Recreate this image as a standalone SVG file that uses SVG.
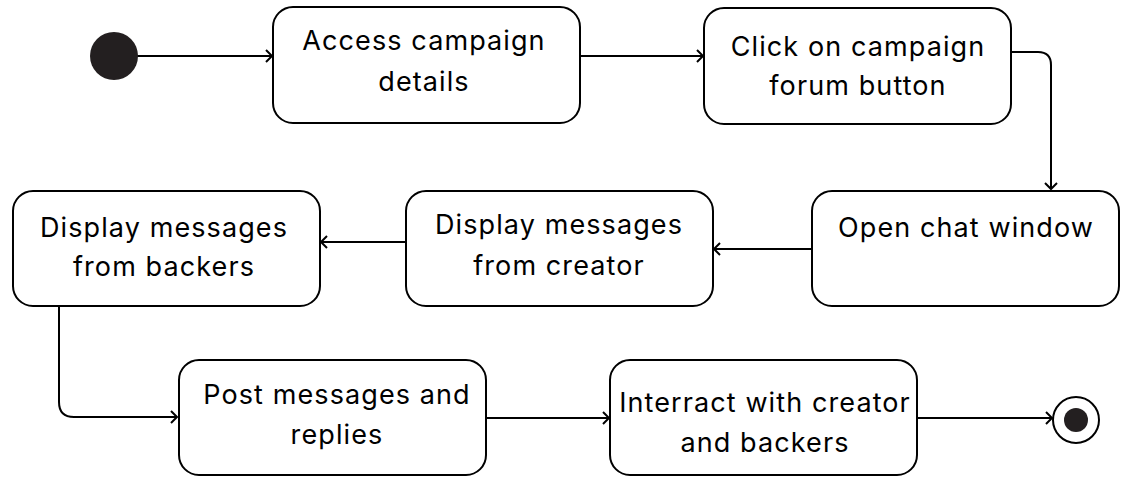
<svg xmlns="http://www.w3.org/2000/svg" width="1130" height="497" viewBox="0 0 1130 497">
<style>
.box{fill:#fff;stroke:#000;stroke-width:2}
.t{font-family:Inter,"Open Sans","Liberation Sans",sans-serif;font-size:27px;letter-spacing:1.1px;fill:#000;text-anchor:middle}
.c{fill:none;stroke:#000;stroke-width:2}
</style>
<defs>
<marker id="a" markerWidth="12" markerHeight="14" refX="10" refY="7" orient="auto" markerUnits="userSpaceOnUse">
<path d="M4,1 L10,7 L4,13" fill="none" stroke="#000" stroke-width="2"/>
</marker>
</defs>
<rect width="1130" height="497" fill="#fff"/>
<g id="connectors">
<line class="c" x1="137" y1="56" x2="272" y2="56" marker-end="url(#a)"/>
<line class="c" x1="580" y1="56" x2="703" y2="56" marker-end="url(#a)"/>
<path class="c" d="M1011,52 H1038 Q1051,52 1051,65 V189" marker-end="url(#a)"/>
<line class="c" x1="812" y1="249" x2="714" y2="249" marker-end="url(#a)"/>
<line class="c" x1="406" y1="242" x2="321" y2="242" marker-end="url(#a)"/>
<path class="c" d="M59,306 V402 Q59,417 74,417 H177" marker-end="url(#a)"/>
<line class="c" x1="486" y1="418" x2="609" y2="418" marker-end="url(#a)"/>
<line class="c" x1="917" y1="418" x2="1052" y2="418" marker-end="url(#a)"/>
</g>
<g id="start"><circle cx="114" cy="56" r="24" fill="#231f20"/></g>
<g id="n1"><rect class="box" x="273" y="7" width="307" height="116" rx="20"/>
<text class="t" x="424" y="50">Access campaign</text><text class="t" x="424" y="91">details</text></g>
<g id="n2"><rect class="box" x="704" y="8" width="307" height="116" rx="20"/>
<text class="t" x="858" y="56">Click on campaign</text><text class="t" x="858" y="95">forum button</text></g>
<g id="n3"><rect class="box" x="812" y="191" width="307" height="115" rx="20"/>
<text class="t" x="966" y="237">Open chat window</text></g>
<g id="n4"><rect class="box" x="406" y="191" width="307" height="115" rx="20"/>
<text class="t" x="559" y="234">Display messages</text><text class="t" x="559" y="275">from creator</text></g>
<g id="n5"><rect class="box" x="13" y="191" width="307" height="115" rx="20"/>
<text class="t" x="164" y="237">Display messages</text><text class="t" x="164" y="276">from backers</text></g>
<g id="n6"><rect class="box" x="179" y="360" width="307" height="115" rx="20"/>
<text class="t" x="337" y="404">Post messages and</text><text class="t" x="337" y="444">replies</text></g>
<g id="n7"><rect class="box" x="610" y="360" width="307" height="115" rx="20"/>
<text class="t" x="765" y="412">Interract with creator</text><text class="t" x="765" y="452">and backers</text></g>
<g id="end"><circle cx="1076" cy="420" r="23" fill="#fff" stroke="#000" stroke-width="2"/><circle cx="1076" cy="420" r="12" fill="#231f20"/></g>
</svg>
